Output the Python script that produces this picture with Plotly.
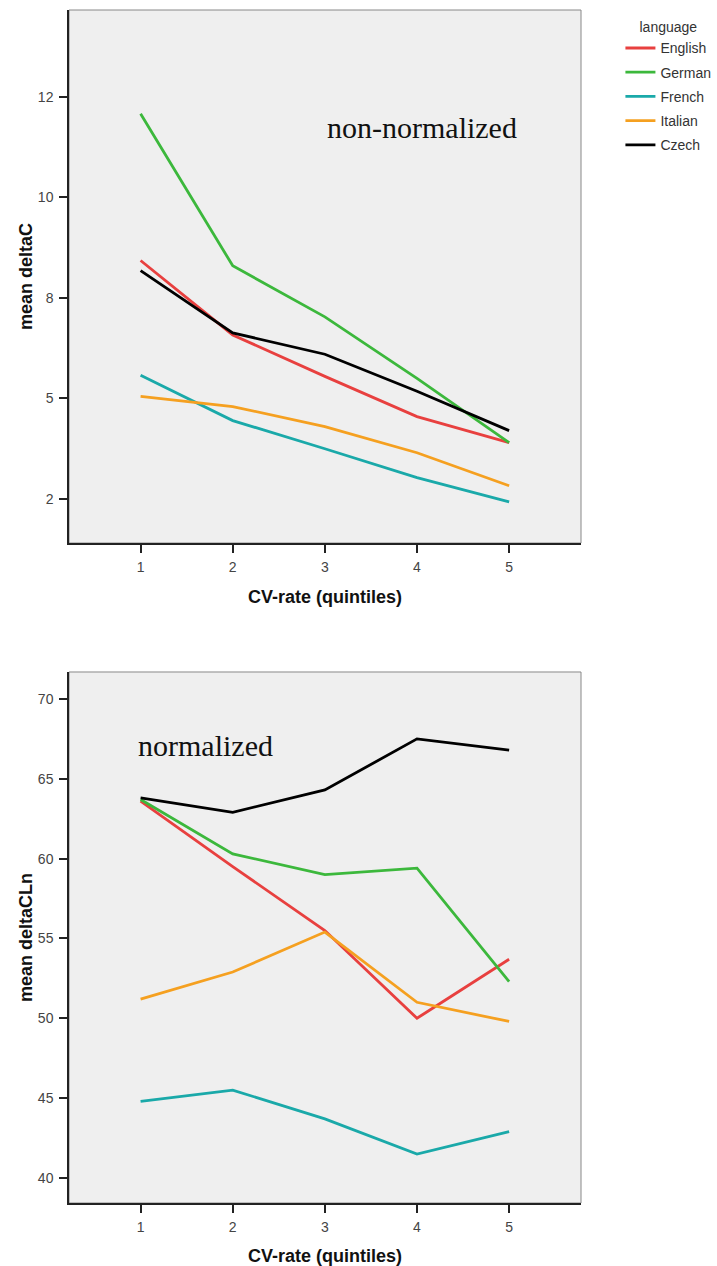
import plotly.graph_objects as go
from plotly.subplots import make_subplots

quintiles = [1, 2, 3, 4, 5]
languages = ["English", "German", "French", "Italian", "Czech"]
colors = ["#e8403f", "#3cb83c", "#1aa9a9", "#f5a020", "#000000"]

# top: mean deltaC (non-normalized)
delta_c = {
    "English": [8.43, 6.58, 5.55, 4.55, 3.90],
    "German": [12.08, 8.30, 7.03, 5.50, 3.90],
    "French": [5.58, 4.45, 3.75, 3.03, 2.43],
    "Italian": [5.05, 4.80, 4.30, 3.65, 2.83],
    "Czech": [8.18, 6.63, 6.10, 5.18, 4.20],
}
# bottom: mean deltaCLn (normalized)
delta_cln = {
    "English": [63.6, 59.5, 55.5, 50.0, 53.7],
    "German": [63.7, 60.3, 59.0, 59.4, 52.3],
    "French": [44.8, 45.5, 43.7, 41.5, 42.9],
    "Italian": [51.2, 52.9, 55.4, 51.0, 49.8],
    "Czech": [63.8, 62.9, 64.3, 67.5, 66.8],
}
top_tickvals = [2.5, 5, 7.5, 10, 12.5]
top_ticktext = ["2", "5", "8", "10", "12"]
bot_tickvals = [40, 45, 50, 55, 60, 65, 70]

fig = make_subplots(rows=2, cols=1)

for lang, col in zip(languages, colors):
    fig.add_trace(go.Scatter(x=quintiles, y=delta_c[lang], mode="lines", name=lang,
                             line=dict(color=col, width=2.8), legendgroup=lang,
                             showlegend=True), row=1, col=1)
for lang, col in zip(languages, colors):
    fig.add_trace(go.Scatter(x=quintiles, y=delta_cln[lang], mode="lines", name=lang,
                             line=dict(color=col, width=2.8), legendgroup=lang,
                             showlegend=False), row=2, col=1)

FONT = "Liberation Sans, Arial, sans-serif"
axis_common = dict(showgrid=False, zeroline=False, showline=True, linecolor="#222",
                   linewidth=1.5, ticks="outside", ticklen=8, tickwidth=1.5, tickcolor="#222",
                   automargin=False,
                   tickfont=dict(family=FONT, size=14, color="#444"))
xt = dict(text="<b>CV-rate (quintiles)</b>", font=dict(family=FONT, size=18, color="#111"),
          standoff=17)

fig.update_layout(
    width=717, height=1266,
    margin=dict(l=69, r=136, t=10, b=63, autoexpand=False),
    paper_bgcolor="white", plot_bgcolor="#efefef",
    font=dict(family=FONT, color="#222"),
    xaxis=dict(domain=[0, 1], range=[0.223, 5.78], tickvals=quintiles, title=xt,
               ticklabelstandoff=2, **axis_common),
    yaxis=dict(domain=[0.5532, 1.0], range=[1.405, 14.66], tickvals=top_tickvals,
               ticktext=top_ticktext,
               title=dict(text="<b>mean deltaC</b>", font=dict(family=FONT, size=18, color="#111"),
                          standoff=1),
               ticklabelstandoff=3, **axis_common),
    xaxis2=dict(domain=[0, 1], range=[0.223, 5.78], tickvals=quintiles, title=xt,
                ticklabelstandoff=2, **axis_common),
    yaxis2=dict(domain=[0, 0.4451], range=[38.43, 71.69], tickvals=bot_tickvals,
                title=dict(text="<b>mean deltaCLn</b>", font=dict(family=FONT, size=18, color="#111"),
                           standoff=1),
                ticklabelstandoff=3, **axis_common),
    legend=dict(x=1.077, y=0.9965, xanchor="left", yanchor="top",
                font=dict(family=FONT, size=14, color="#333"),
                title=dict(text="language", side="top center",
                           font=dict(family=FONT, size=14, color="#333")),
                tracegroupgap=3, bgcolor="rgba(0,0,0,0)", itemwidth=30),
)

# light grey frame on top/right
for xr, yr in (("x domain", "y domain"), ("x2 domain", "y2 domain")):
    fig.add_shape(type="rect", xref=xr, yref=yr, x0=0, x1=1, y0=0, y1=1,
                  line=dict(color="#888", width=1), layer="below")

fig.add_annotation(x=4.05, y=11.73, xref="x", yref="y", text="non-normalized",
                   showarrow=False, font=dict(family="Liberation Serif, Times New Roman, serif",
                                              size=30, color="#111"))
fig.add_annotation(x=1.70, y=67.1, xref="x2", yref="y2", text="normalized",
                   showarrow=False, font=dict(family="Liberation Serif, Times New Roman, serif",
                                              size=30, color="#111"))

fig.write_html("out.html", config={"displayModeBar": False},
               post_script="document.body.style.margin='0';")
